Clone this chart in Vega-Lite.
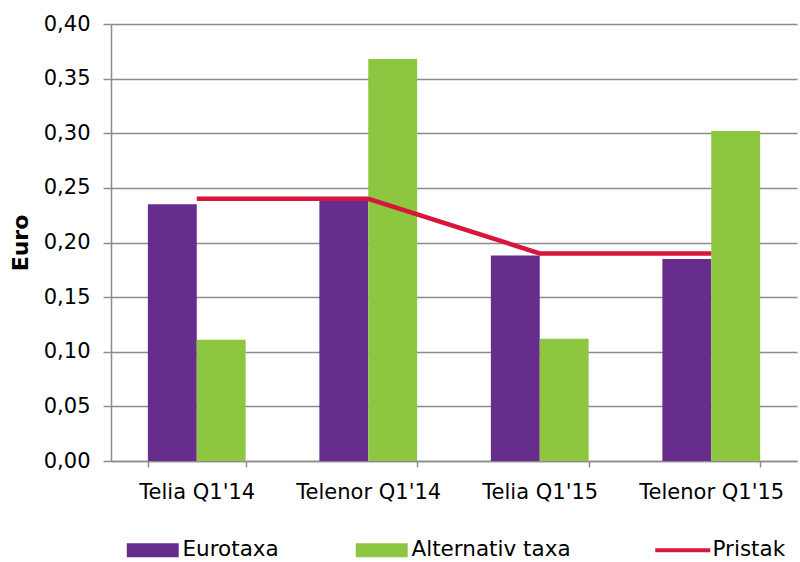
{
  "$schema": "https://vega.github.io/schema/vega-lite/v6.json",
  "width": 686,
  "height": 437,
  "autosize": {"type": "none"},
  "padding": {"left": 111, "top": 24, "right": 3, "bottom": 101},
  "config": {
    "locale": {"number": {"decimal": ",", "thousands": ".", "grouping": [3], "currency": ["", " €"]}},
    "font": "DejaVu Sans",
    "view": {"stroke": null},
    "axis": {"labelFont": "DejaVu Sans", "titleFont": "DejaVu Sans", "labelColor": "#000000", "titleColor": "#000000"}
  },
  "data": {
    "values": [
      {"cat": "Telia Q1'14", "series": "Eurotaxa", "value": 0.235},
      {"cat": "Telia Q1'14", "series": "Alternativ taxa", "value": 0.111},
      {"cat": "Telenor Q1'14", "series": "Eurotaxa", "value": 0.238},
      {"cat": "Telenor Q1'14", "series": "Alternativ taxa", "value": 0.368},
      {"cat": "Telia Q1'15", "series": "Eurotaxa", "value": 0.188},
      {"cat": "Telia Q1'15", "series": "Alternativ taxa", "value": 0.112},
      {"cat": "Telenor Q1'15", "series": "Eurotaxa", "value": 0.185},
      {"cat": "Telenor Q1'15", "series": "Alternativ taxa", "value": 0.302},
      {"cat": "Telia Q1'14", "series": "Pristak", "value": 0.24},
      {"cat": "Telenor Q1'14", "series": "Pristak", "value": 0.24},
      {"cat": "Telia Q1'15", "series": "Pristak", "value": 0.19},
      {"cat": "Telenor Q1'15", "series": "Pristak", "value": 0.19}
    ]
  },
  "encoding": {
    "x": {
      "field": "cat", "type": "nominal", "sort": null, "title": null,
      "scale": {"paddingInner": 0.43, "paddingOuter": 0.215},
      "axis": {
        "labelAngle": 0, "labelFontSize": 21, "labelPadding": 14,
        "tickBand": "extent", "tickSize": 6, "tickColor": "#8c8c8c", "tickWidth": 1.5,
        "domainColor": "#8c8c8c", "domainWidth": 1.5, "grid": false
      }
    },
    "y": {
      "field": "value", "type": "quantitative", "title": "Euro",
      "scale": {"domain": [0, 0.4]},
      "axis": {
        "values": [0, 0.05, 0.1, 0.15, 0.2, 0.25, 0.3, 0.35, 0.4],
        "format": ".2f", "labelFontSize": 21, "labelPadding": 13,
        "tickSize": 8, "tickColor": "#8c8c8c", "tickWidth": 1.5,
        "domainColor": "#8c8c8c", "domainWidth": 1.5,
        "gridColor": "#8c8c8c", "gridWidth": 1.5,
        "titleFontSize": 22, "titleFontWeight": "bold", "titlePadding": 11
      }
    },
    "color": {
      "field": "series", "type": "nominal",
      "scale": {"domain": ["Eurotaxa", "Alternativ taxa", "Pristak"], "range": ["#662d8c", "#8dc63f", "#d6163c"]},
      "legend": {
        "title": null, "orient": "none", "direction": "horizontal", "columns": 3,
        "legendX": 31, "legendY": 515,
        "symbolSize": 196, "labelFontSize": 21.5, "labelColor": "#000000", "labelOffset": 19,
        "labelLimit": 400,
        "columnPadding": 76, "labelFont": "DejaVu Sans",
        "encode": {
          "symbols": {
            "update": {
              "shape": {"signal": "datum.value === 'Pristak' ? 'M-3.93,0H3.93' : 'M-3.71,-1H3.71V1H-3.71Z'"},
              "fill": {"scale": "color", "field": "value"},
              "stroke": {"scale": "color", "field": "value"},
              "strokeWidth": {"signal": "datum.value === 'Pristak' ? 4 : 0"},
              "opacity": {"value": 1}
            }
          }
        }
      }
    }
  },
  "layer": [
    {
      "transform": [{"filter": "datum.series !== 'Pristak'"}],
      "mark": {"type": "bar"},
      "encoding": {
        "xOffset": {"field": "series", "type": "nominal", "scale": {"domain": ["Eurotaxa", "Alternativ taxa"], "paddingInner": 0, "paddingOuter": 0}}
      }
    },
    {
      "transform": [{"filter": "datum.series === 'Pristak'"}],
      "mark": {"type": "line", "strokeWidth": 4.5},
      "encoding": {}
    }
  ]
}
